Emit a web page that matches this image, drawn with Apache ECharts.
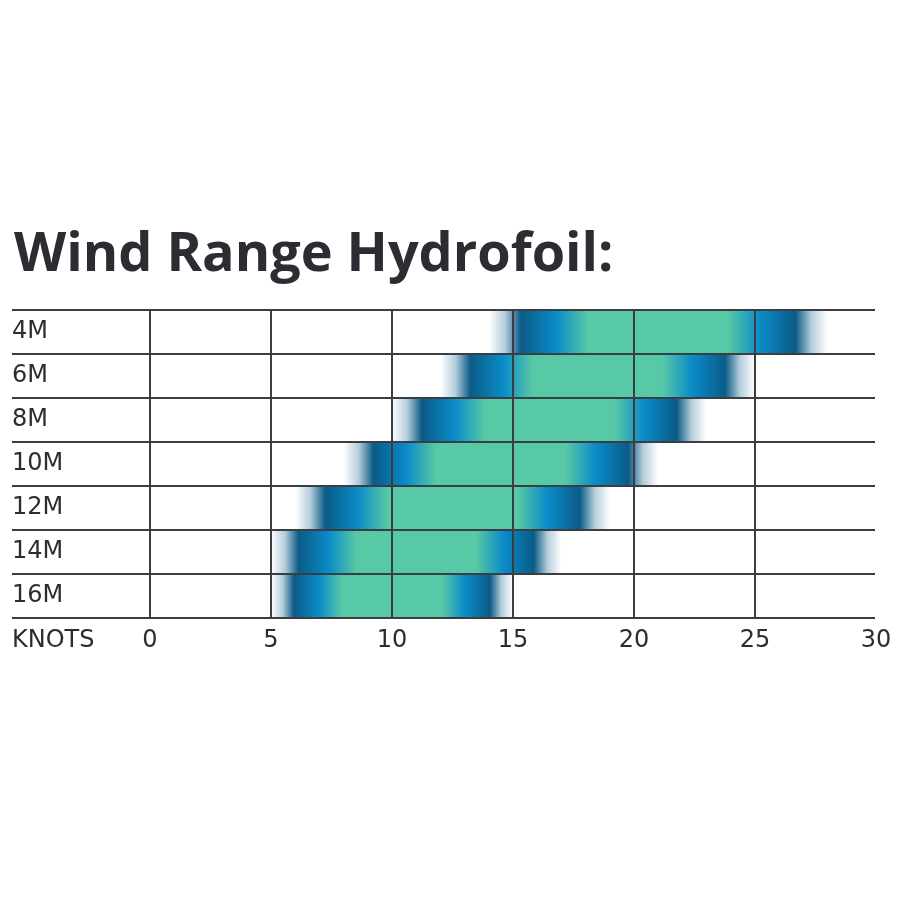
<!DOCTYPE html>
<html>
<head>
<meta charset="utf-8">
<style>html,body{margin:0;padding:0;background:#fff;}#chart{width:900px;height:900px;}</style>
<script src="https://cdn.jsdelivr.net/npm/echarts@6/dist/echarts.min.js"></script>
</head>
<body>
<div id="chart"></div>
<script>
// ---- data ----
const titleText = 'Wind Range Hydrofoil:';
const categories = ['4M', '6M', '8M', '10M', '12M', '14M', '16M'];
const rangeStart = [14, 12, 10, 8, 6, 5, 5];
const rangeEnd = [28, 25, 23, 21, 19, 17, 15];
const axisName = 'KNOTS';
const xTicks = [0, 5, 10, 15, 20, 25, 30];

// ---- styles ----
const DARK = '#0b5b87';
const BLUE = '#0a8cc8';
const TEAL = '#58c9a6';
const LINE = '#3a3d42';
const TEXT = '#2b2d33';
const labelFont = 'DejaVu Sans';

const chart = echarts.init(document.getElementById('chart'), null, {renderer: 'canvas'});

const seriesData = categories.map((c, i) => [i, rangeStart[i], rangeEnd[i]]);

function renderItem(params, api) {
  const idx = api.value(0);
  const s = api.value(1);
  const e = api.value(2);
  const p0 = api.coord([s, idx]);
  const p1 = api.coord([e, idx]);
  const h = api.size([0, 1])[1];
  const a = 0.095, b = 0.2, c = 0.295;
  const grad = new echarts.graphic.LinearGradient(0, 0, 1, 0, [
    {offset: 0, color: 'rgba(11,91,135,0)'},
    {offset: a * 0.5, color: 'rgba(11,91,135,0.3)'},
    {offset: a, color: DARK},
    {offset: b, color: BLUE},
    {offset: c, color: TEAL},
    {offset: 1 - c, color: TEAL},
    {offset: 1 - b, color: BLUE},
    {offset: 1 - a, color: DARK},
    {offset: 1 - a * 0.5, color: 'rgba(11,91,135,0.3)'},
    {offset: 1, color: 'rgba(11,91,135,0)'}
  ]);
  return {
    type: 'rect',
    shape: {x: p0[0], y: p0[1] - h / 2, width: p1[0] - p0[0], height: h},
    style: {fill: grad}
  };
}

const option = {
  backgroundColor: '#ffffff',
  animation: false,
  title: {
    text: titleText,
    left: 9,
    top: 224,
    textStyle: {fontFamily: 'Open Sans', fontWeight: 'bold', fontSize: 54, color: TEXT}
  },
  grid: [
    {left: 150, right: 24, top: 310, bottom: 282},
    {left: 12, right: 25, top: 310, bottom: 282}
  ],
  xAxis: [
    {
      type: 'value', gridIndex: 0, min: xTicks[0], max: xTicks[xTicks.length - 1], interval: 5,
      z: 5,
      axisLine: {show: false}, axisTick: {show: false},
      axisLabel: {fontFamily: labelFont, fontSize: 24, color: TEXT, margin: 11,
        formatter: v => String(v)},
      splitLine: {show: true, showMaxLine: false, lineStyle: {color: LINE, width: 2}},
      name: axisName, nameLocation: 'start', nameGap: 138,
      nameTextStyle: {fontFamily: labelFont, fontSize: 24, color: TEXT, align: 'left', verticalAlign: 'top', padding: [11, 0, 0, 0]}
    },
    {type: 'value', gridIndex: 1, min: 0, max: 1, show: false}
  ],
  yAxis: [
    {
      type: 'category', gridIndex: 0, data: categories, inverse: true,
      axisLine: {show: false}, axisTick: {show: false}, splitLine: {show: false},
      axisLabel: {fontFamily: labelFont, fontSize: 24, color: TEXT, align: 'left', margin: 138}
    },
    {
      type: 'category', gridIndex: 1, data: categories, inverse: true, z: 5,
      axisLine: {show: false}, axisTick: {show: false}, axisLabel: {show: false},
      splitLine: {show: true, lineStyle: {color: LINE, width: 2}}
    }
  ],
  series: [{
    type: 'custom',
    xAxisIndex: 0, yAxisIndex: 0,
    renderItem: renderItem,
    encode: {x: [1, 2], y: 0},
    data: seriesData,
    z: 1
  }]
};
chart.setOption(option);
</script>
</body>
</html>
